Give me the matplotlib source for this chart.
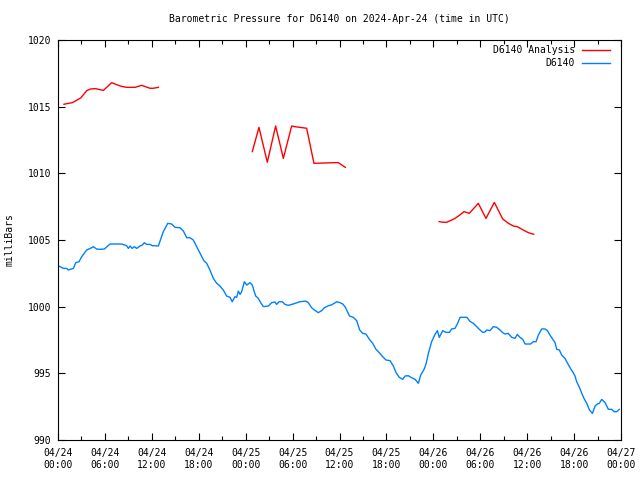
import numpy as np
import matplotlib
matplotlib.use("Agg")
import matplotlib.pyplot as plt
import matplotlib.dates as mdates

# ----------------------------------------------------------------------
# data (hours after 2024-04-24 00:00 UTC, millibars)
# ----------------------------------------------------------------------
start = np.datetime64('2024-04-24T00:00')

# analysis: three separate runs, NaN breaks the line between them
ana_hours = [0.77, 1.32, 1.83, 2.39, 2.94, 3.67, 4.18, 4.82, 5.8, 6.86,
             7.5, 8.14, 8.78, 9.85, 10.7, 11.77, 12.2, 12.83,
             18.0,
             24.85, 25.7, 26.77, 27.84, 28.82, 29.88, 30.3, 31.8, 32.74,
             35.3, 35.85, 36.74,
             42.0,
             48.73, 49.28, 49.7, 50.35, 50.77, 51.4, 51.92, 52.6, 53.75,
             54.73, 55.8, 56.87, 57.6, 58.23, 58.74, 59.5, 60.15, 60.83]
ana_mb = [1015.18, 1015.25, 1015.3, 1015.48, 1015.67, 1016.2, 1016.33,
          1016.35, 1016.22, 1016.8, 1016.65, 1016.52, 1016.45, 1016.45,
          1016.6, 1016.38, 1016.38, 1016.45,
          np.nan,
          1011.63, 1013.45, 1010.83, 1013.55, 1011.12, 1013.55, 1013.5,
          1013.38, 1010.75, 1010.8, 1010.8, 1010.45,
          np.nan,
          1006.38, 1006.33, 1006.33, 1006.5, 1006.62, 1006.88, 1007.13,
          1007.0, 1007.75, 1006.62, 1007.82, 1006.58, 1006.25, 1006.05,
          1006.0, 1005.75, 1005.55, 1005.43]

obs_hours = [0.1, 0.68, 1.11, 1.32, 1.75, 1.96, 2.26, 2.69, 3.03, 3.67,
             4.3, 4.52, 4.95, 5.37, 5.92, 6.35, 6.65, 8.14, 8.78, 9.0,
             9.21, 9.5, 9.76, 10.06, 10.49, 10.78, 11.04, 11.34, 11.77, 12.06,
             12.41, 12.83, 13.17, 13.47, 14.03, 14.54, 14.96, 15.6, 16.03, 16.46,
             16.88, 17.3, 17.73, 18.16, 18.65, 19.02, 19.44, 19.87, 20.3, 20.72,
             21.14, 21.57, 22.0, 22.29, 22.64, 22.85, 23.06, 23.28, 23.49, 23.83,
             24.13, 24.55, 24.85, 25.1, 25.28, 25.62, 25.96, 26.26, 26.9, 27.33,
             27.75, 27.97, 28.26, 28.69, 29.03, 29.45, 30.09, 30.31, 30.95, 31.68,
             32.01, 32.44, 32.78, 33.29, 33.72, 34.06, 34.57, 34.91, 35.34, 35.64,
             36.07, 36.41, 36.7, 36.92, 37.26, 37.77, 38.2, 38.58, 38.97, 39.39,
             39.82, 40.25, 40.67, 41.09, 41.52, 41.95, 42.46, 42.88, 43.23, 43.65,
             44.08, 44.38, 44.8, 45.23, 45.66, 46.08, 46.38, 46.81, 47.07, 47.36,
             47.79, 48.21, 48.51, 48.77, 49.2, 49.62, 50.05, 50.35, 50.77, 51.07,
             51.41, 52.3, 52.69, 53.12, 53.55, 53.88, 54.31, 54.61, 54.82, 55.25,
             55.67, 56.1, 56.53, 56.87, 57.17, 57.59, 58.02, 58.45, 58.74, 59.09,
             59.43, 59.73, 60.45, 60.79, 61.13, 61.43, 61.86, 62.28, 62.58, 62.92,
             63.27, 63.56, 63.78, 64.12, 64.42, 64.84, 65.06, 65.48, 65.82, 66.12,
             66.34, 66.68, 66.98, 67.27, 67.62, 67.96, 68.35, 68.68, 68.98, 69.24,
             69.54, 69.96, 70.38, 70.81, 71.11, 71.45, 71.79]
obs_mb = [1003.05, 1002.87, 1002.87, 1002.75, 1002.83, 1002.87, 1003.3, 1003.37, 1003.75, 1004.25,
          1004.42, 1004.5, 1004.32, 1004.3, 1004.32, 1004.55, 1004.7, 1004.7, 1004.57, 1004.37,
          1004.55, 1004.37, 1004.5, 1004.37, 1004.55, 1004.62, 1004.8, 1004.67, 1004.67, 1004.57,
          1004.57, 1004.55, 1005.12, 1005.62, 1006.25, 1006.2, 1005.95, 1005.92, 1005.67, 1005.17,
          1005.17, 1005.0, 1004.5, 1004.0, 1003.45, 1003.25, 1002.75, 1002.12, 1001.75, 1001.55,
          1001.25, 1000.8, 1000.7, 1000.37, 1000.75, 1000.7, 1001.17, 1000.92, 1001.12, 1001.87,
          1001.62, 1001.8, 1001.62, 1001.12, 1000.8, 1000.62, 1000.25, 1000.0, 1000.05, 1000.3,
          1000.35, 1000.17, 1000.37, 1000.37, 1000.17, 1000.1, 1000.2, 1000.25, 1000.37, 1000.42,
          1000.3, 999.92, 999.75, 999.55, 999.7, 999.92, 1000.07, 1000.12, 1000.25, 1000.37,
          1000.3, 1000.2, 1000.0, 999.75, 999.3, 999.2, 998.95, 998.25, 998.0, 997.95,
          997.55, 997.25, 996.8, 996.55, 996.25, 996.0, 995.95, 995.55, 995.05, 994.7,
          994.55, 994.8, 994.82, 994.67, 994.55, 994.25, 994.87, 995.3, 995.7, 996.5,
          997.37, 997.92, 998.2, 997.7, 998.2, 998.07, 998.07, 998.33, 998.37, 998.7,
          999.2, 999.2, 998.9, 998.75, 998.5, 998.3, 998.07, 998.1, 998.25, 998.2,
          998.5, 998.45, 998.25, 998.05, 997.95, 998.0, 997.7, 997.62, 997.92, 997.7,
          997.55, 997.2, 997.2, 997.37, 997.37, 997.87, 998.33, 998.33, 998.2, 997.87,
          997.57, 997.3, 996.8, 996.75, 996.37, 996.12, 995.87, 995.42, 995.12, 994.8,
          994.37, 993.95, 993.5, 993.12, 992.75, 992.25, 992.0, 992.55, 992.7, 992.75,
          993.05, 992.8, 992.3, 992.3, 992.12, 992.12, 992.3]


def to_time(hours):
    minutes = np.round(np.asarray(hours) * 60).astype(int)
    return start + minutes.astype('timedelta64[m]')


FONT = 'DejaVu Sans Mono'
FS = 7

fig = plt.figure(figsize=(6.4, 4.8), dpi=100)
ax = fig.add_axes([58 / 640, 40 / 480, 563 / 640, 400 / 480])

ax.plot(to_time(ana_hours), ana_mb, color='#ff0000', lw=1, label='D6140 Analysis')
ax.plot(to_time(obs_hours), obs_mb, color='#0080ff', lw=1, label='D6140')

ax.set_xlim(start, start + np.timedelta64(72, 'h'))
ax.set_ylim(990, 1020)
ax.set_yticks(np.arange(990, 1021, 5))

ax.xaxis.set_major_locator(mdates.HourLocator(byhour=[0, 6, 12, 18]))
ax.xaxis.set_minor_locator(mdates.HourLocator(byhour=[3, 9, 15, 21]))
ax.xaxis.set_major_formatter(mdates.DateFormatter('%m/%d\n%H:%M'))

ax.tick_params(which='both', direction='in', top=True, right=True,
               labelsize=FS, width=0.8)
ax.tick_params(which='major', length=5)
ax.tick_params(which='minor', length=3)
ax.tick_params(axis='x', pad=6)
ax.tick_params(axis='y', pad=5)
for lab in ax.get_xticklabels() + ax.get_yticklabels():
    lab.set_family(FONT)
for sp in ax.spines.values():
    sp.set_linewidth(0.8)

fig.text(339.5 / 640, 1 - 19 / 480,
         'Barometric Pressure for D6140 on 2024-Apr-24 (time in UTC)',
         ha='center', va='center', family=FONT, fontsize=FS)
fig.text(10 / 640, 0.5, 'milliBars', rotation=90, ha='center', va='center',
         family=FONT, fontsize=FS)

leg = ax.legend(loc='upper right', bbox_to_anchor=(0.9805, 0.9875),
                markerfirst=False, frameon=False, borderaxespad=0, borderpad=0,
                handlelength=2.9, handletextpad=0.7, labelspacing=0.35,
                prop={'family': FONT, 'size': FS})
for t in leg.get_texts():
    t.set_ha('right')

fig.savefig('out.png', dpi=100)
